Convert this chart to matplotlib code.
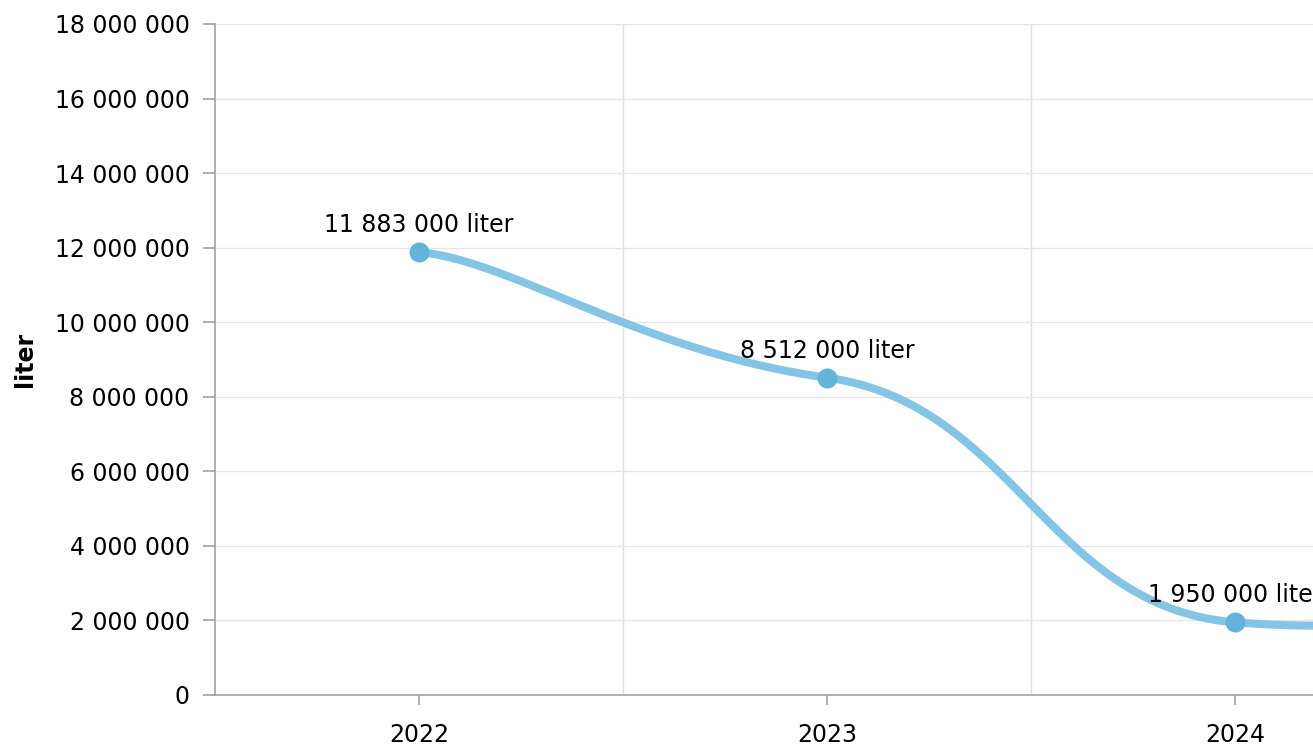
import numpy as np
import matplotlib
matplotlib.use("Agg")
import matplotlib.pyplot as plt
from matplotlib.ticker import FixedLocator, FuncFormatter

plt.rcParams['font.family'] = ['DejaVu Sans']

# ---- data ----
categories = ['2022', '2023', '2024', '2025']
values = [11883000, 8512000, 1950000, 2700000]   # last point lies beyond the visible edge (estimated)
unit = 'liter'
y_ticks = [0, 2000000, 4000000, 6000000, 8000000, 10000000, 12000000, 14000000, 16000000, 18000000]

W, H = 1313, 746
FS = 17
fig = plt.figure(figsize=(W / 100, H / 100), dpi=100)
left_px, right_px, top_px, bottom_px = 215, 1313, 24, 695
ax = fig.add_axes([left_px / W, (H - bottom_px) / H,
                   (right_px - left_px) / W, (bottom_px - top_px) / H])

cat_px = 408.0
x_max = -0.5 + (right_px - left_px) / cat_px
ax.set_xlim(-0.5, x_max)
ax.set_ylim(0, 18000000)


def fmt(v):
    return f"{int(round(v)):,}".replace(",", " ")


# smoothed line (tension-style cubic Bezier)
tx, ty = 0.23, 0.07
xs = np.arange(len(values), dtype=float)
ys = np.array(values, dtype=float)
n = len(xs)
cx, cy = [], []
tt = np.linspace(0, 1, 200)
for i in range(n - 1):
    i0 = i - 1 if i > 0 else i
    i3 = i + 2 if i + 2 < n else i + 1
    p0 = (xs[i0], ys[i0]); p1 = (xs[i], ys[i]); p2 = (xs[i + 1], ys[i + 1]); p3 = (xs[i3], ys[i3])
    ax_ = p1[0] + (p2[0] - p0[0]) * tx
    ay_ = p1[1] + (p2[1] - p0[1]) * ty
    bx_ = p2[0] - (p3[0] - p1[0]) * tx
    by_ = p2[1] - (p3[1] - p1[1]) * ty
    bx = (1 - tt) ** 3 * p1[0] + 3 * (1 - tt) ** 2 * tt * ax_ + 3 * (1 - tt) * tt ** 2 * bx_ + tt ** 3 * p2[0]
    by = (1 - tt) ** 3 * p1[1] + 3 * (1 - tt) ** 2 * tt * ay_ + 3 * (1 - tt) * tt ** 2 * by_ + tt ** 3 * p2[1]
    cx.extend(bx); cy.extend(by)

ax.plot(cx, cy, color='#84c4e4', lw=5.8, solid_capstyle='round', zorder=3)
ax.plot(xs, ys, 'o', ms=14.4, color='#64b4da', mec='none', zorder=4)

for x, v in zip(xs, ys):
    ax.annotate(f"{fmt(v)} {unit}", (x, v), xytext=(0, 19.5), textcoords='offset points',
                ha='center', va='center', fontsize=FS, color='#000000', zorder=5)

# axes styling
ax.yaxis.set_major_locator(FixedLocator(y_ticks))
ax.yaxis.set_major_formatter(FuncFormatter(lambda v, p: fmt(v)))
ax.xaxis.set_major_locator(FixedLocator(xs))
ax.xaxis.set_major_formatter(FuncFormatter(lambda v, p: categories[int(round(v))] if 0 <= int(round(v)) < len(categories) else ''))
ax.xaxis.set_minor_locator(FixedLocator(xs[:-1] + 0.5))

ax.grid(True, axis='y', which='major', color='#e6e6e6', lw=1.0, zorder=0)
ax.grid(True, axis='x', which='minor', color='#dedede', lw=1.0, zorder=0)
ax.grid(False, axis='x', which='major')
ax.set_axisbelow(True)

for s in ['top', 'right']:
    ax.spines[s].set_visible(False)
for s in ['left', 'bottom']:
    ax.spines[s].set_color('#999999')
    ax.spines[s].set_linewidth(1.1)

ax.tick_params(axis='y', which='major', length=8.3, width=1.1, color='#999999',
               pad=10, labelsize=FS, labelcolor='#000000')
ax.tick_params(axis='x', which='major', length=7, width=1.1, color='#999999',
               pad=13, labelsize=FS, labelcolor='#000000')
ax.tick_params(axis='x', which='minor', length=0)

fig.text(25 / W, 1 - 359 / H, unit, rotation=90, ha='center', va='center',
         fontsize=FS, fontweight='bold', color='#000000')

fig.savefig('out.png', dpi=100)
